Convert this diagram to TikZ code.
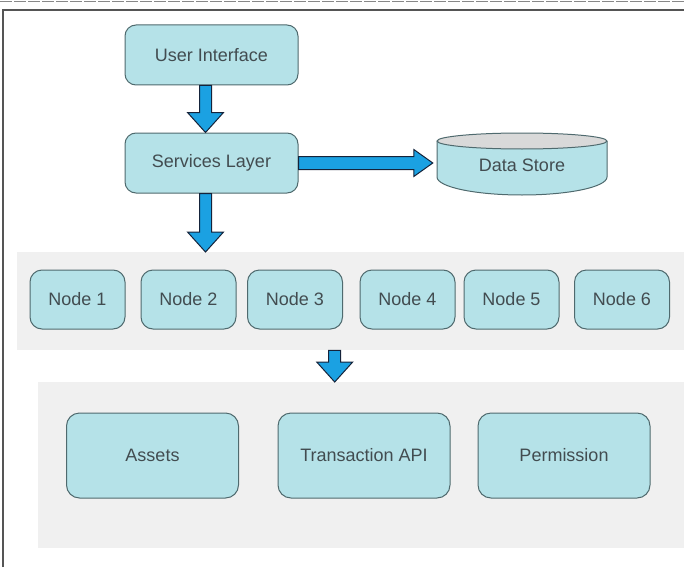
\documentclass[tikz,border=0pt]{standalone}
\usepackage{fontspec}
\setmainfont{Liberation Sans}
\usetikzlibrary{calc}

\definecolor{boxfill}{HTML}{B5E2E8}
\definecolor{boxline}{HTML}{4F6A6E}
\definecolor{boxtext}{HTML}{424C50}
\definecolor{bandgray}{HTML}{F0F0F0}
\definecolor{topgray}{HTML}{D9D9D9}
\definecolor{arrowblue}{HTML}{1BA1E2}
\definecolor{arrowline}{HTML}{15233A}
\definecolor{framegray}{HTML}{555555}

% fat block arrows between two named points
\newcommand{\blockdown}[2]{%
  \draw[blockarrow] let \p1=(#1), \p2=(#2) in
    (\x1-6pt,\y1) -- (\x1+6pt,\y1) -- (\x1+6pt,\y2+20pt) -- (\x1+18pt,\y2+20pt)
    -- (\x1,\y2) -- (\x1-18pt,\y2+20pt) -- (\x1-6pt,\y2+20pt) -- cycle;}
\newcommand{\blockright}[2]{%
  \draw[blockarrow] let \p1=(#1), \p2=(#2) in
    (\x1,\y1+6.5pt) -- (\x2-19pt,\y1+6.5pt) -- (\x2-19pt,\y1+13.5pt) -- (\x2,\y1)
    -- (\x2-19pt,\y1-13.5pt) -- (\x2-19pt,\y1-6.5pt) -- (\x1,\y1-6.5pt) -- cycle;}

\begin{document}
\begin{tikzpicture}[x=1pt, y=-1pt,
  tile/.style={draw=boxline, fill=boxfill, line width=1pt, rounded corners=11pt,
    text=boxtext, inner sep=0pt, font=\fontsize{18}{20}\selectfont},
  band/.style={fill=bandgray, inner sep=0pt, anchor=north west},
  blockarrow/.style={fill=arrowblue, draw=arrowline, line width=1pt, line join=miter}]
  \useasboundingbox (0,0) rectangle (684,567);

  % Frame
  \draw[framegray!70, line width=1pt, dash pattern=on 12pt off 2pt] (0,2) -- (684,2);
  \draw[framegray, line width=1.2pt] (3,567) -- (3,10) -- (684,10);

  % Grey bands
  \node[band, minimum width=667pt, minimum height=98pt] (nodeband) at (17,252) {};
  \node[band, minimum width=646pt, minimum height=166pt] (moduleband) at (38,382) {};

  % Upper layers
  \node[tile, minimum width=173pt, minimum height=60pt] (ui) at (211.5,55) {User Interface};
  \node[tile, minimum width=173pt, minimum height=60pt] (sl) at (211.5,163) {Services Layer};

  % Data store cylinder
  \fill[boxfill] (437,141) -- (437,177)
    arc[start angle=180, end angle=360, x radius=85pt, y radius=18pt] -- (607,141) -- cycle;
  \draw[boxline, line width=1pt] (437,141) -- (437,177)
    arc[start angle=180, end angle=360, x radius=85pt, y radius=18pt] -- (607,141);
  \draw[boxline, fill=topgray, line width=1pt] (522,141) ellipse [x radius=85pt, y radius=8pt];
  \node[text=boxtext, font=\fontsize{18}{20}\selectfont, minimum width=170pt, inner sep=0pt]
    (ds) at (522,165) {Data Store};

  % Nodes
  \foreach \n/\x in {1/77.5, 2/188.5, 3/295, 4/407.5, 5/511.5, 6/622}
    \node[tile, minimum width=95pt, minimum height=59pt, rounded corners=12pt]
      (node\n) at (\x,299.5) {Node \n};

  % Modules
  \node[tile, minimum width=172pt, minimum height=85pt, rounded corners=13pt] (assets) at (152.5,455.5) {Assets};
  \node[tile, minimum width=172pt, minimum height=85pt, rounded corners=13pt] (tapi) at (364,455.5) {Transaction API};
  \node[tile, minimum width=172pt, minimum height=85pt, rounded corners=13pt] (perm) at (564,455.5) {Permission};

  % Arrows
  \blockdown{$(ui.south)+(-6,0)$}{sl.north}
  \blockdown{$(sl.south)+(-6,0)$}{nodeband.north}
  \blockdown{$(nodeband.south)+(-16,0)$}{moduleband.north}
  \blockright{sl.east}{$(ds.west)+(-4,0)$}
\end{tikzpicture}
\end{document}
